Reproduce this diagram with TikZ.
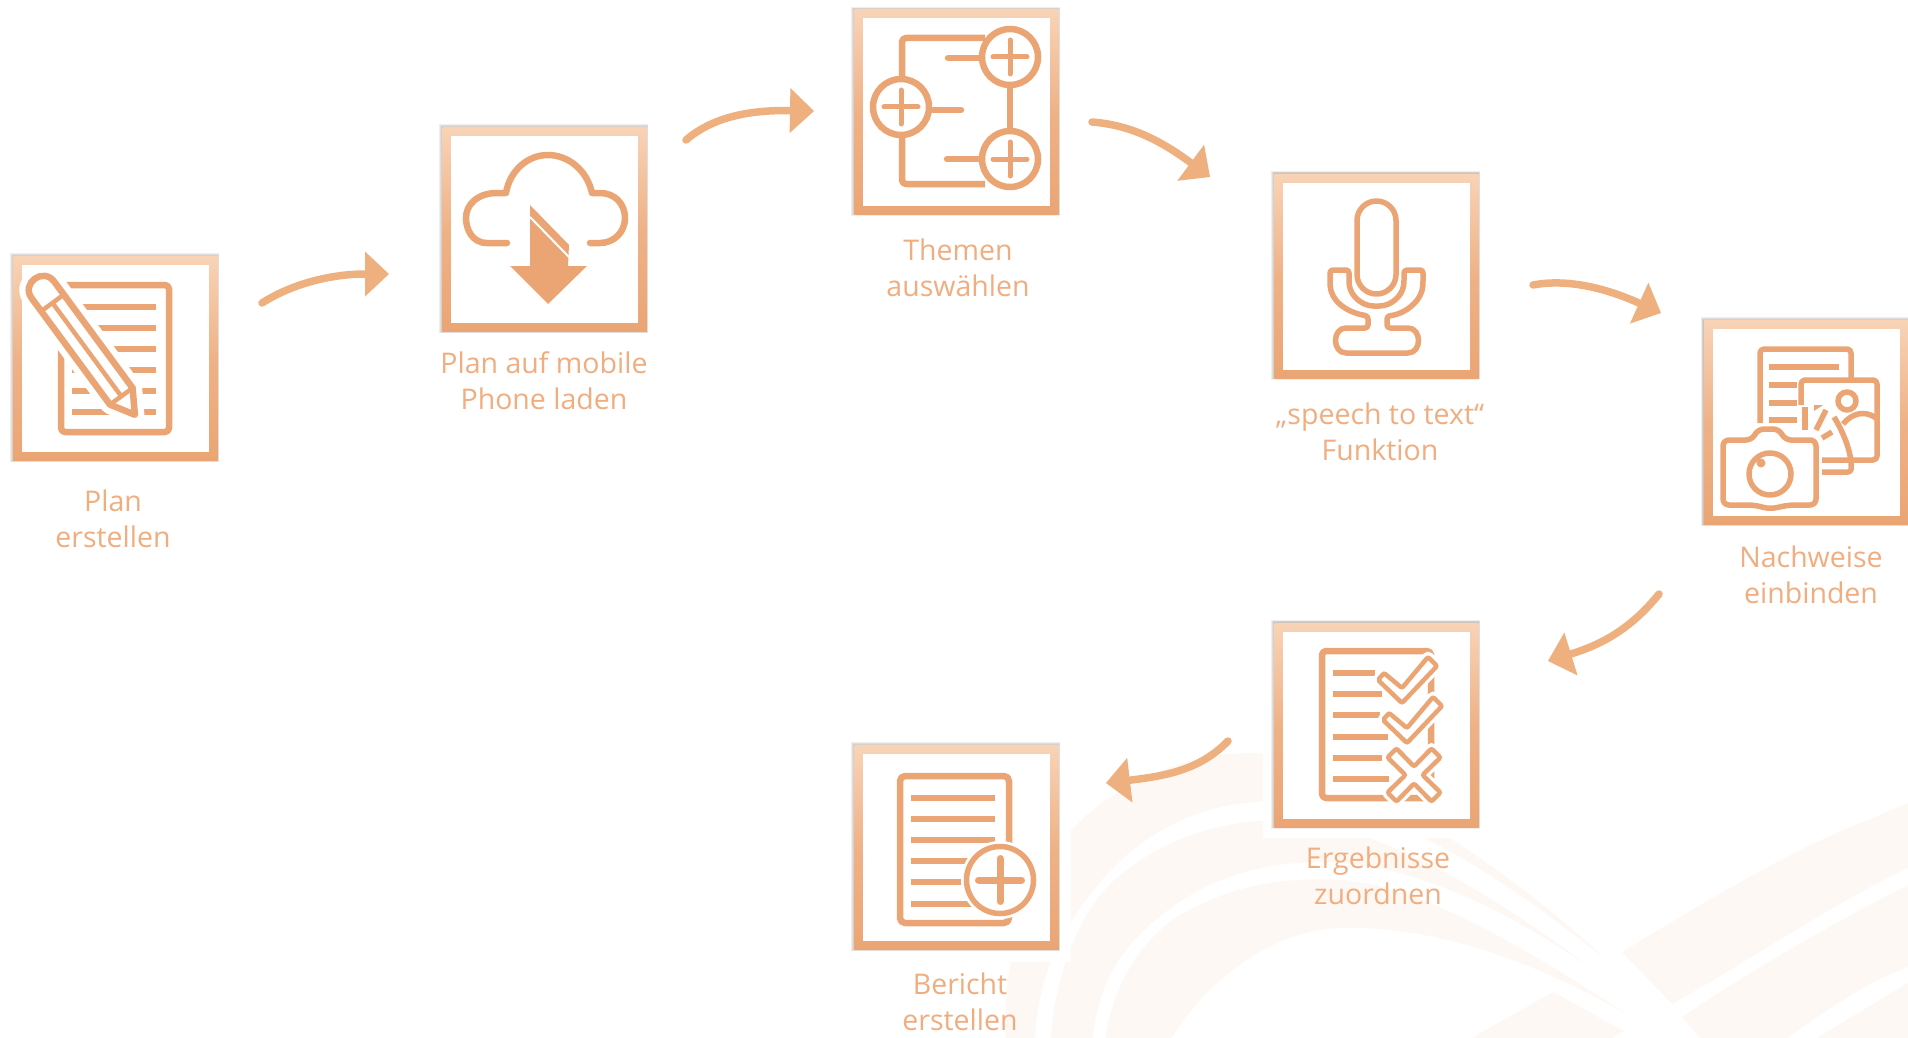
\documentclass[tikz,border=0pt]{standalone}
\usepackage{fontspec}
\setmainfont{Open Sans}
\usetikzlibrary{arrows.meta,shadings}
\definecolor{iconc}{HTML}{EBA574}
\definecolor{framelo}{HTML}{EBA574}
\definecolor{framehi}{HTML}{F8D3B6}
\definecolor{arrowc}{HTML}{EFB07F}
\definecolor{textc}{HTML}{F0AE80}
\definecolor{wmark}{HTML}{FDF8F3}
\tikzset{
  framebox/.style={rectangle,minimum size=204pt,inner sep=0pt,outer sep=0pt,top color=framehi,bottom color=framelo,draw=none,middle color=framelo!72!framehi},
  boxshadow/.style={fill=black!60!iconc,opacity=.09},
  flow/.style={draw=arrowc,line width=7.5pt,line cap=round,-{Triangle[length=24pt,width=45pt,fill=arrowc,line width=0pt]}},
  ico/.style={draw=iconc,line width=6.5pt,line join=round},
  icothin/.style={draw=iconc,line width=5.5pt,line join=round},
  icorow/.style={fill=iconc},
  halo/.style={draw=white,line width=19pt,line join=round},
  caption/.style={text=textc,font=\fontsize{28.5}{36}\selectfont,align=center,inner sep=0pt},
  wm/.style={fill=wmark},
  plus/.style={draw=iconc,line width=5pt,line cap=round}
}
\newcommand{\iconbox}[3]{%
  \foreach \g in {0.8,1.6,2.4,3.2} {\fill[boxshadow] (#2-102-\g,#3-102-\g) rectangle (#2+102+\g*.6,#3+102+\g*.6);}
  \node[framebox] (#1) at (#2,#3) {};
  \fill[white] (#2-93.5,#3-93.5) rectangle (#2+93.5,#3+93.5);
}
\newcommand{\rowlines}[3]{% x1, x2 , list of y
  \foreach \yy in {#3} {\fill[icorow] (#1,\yy-3.4) rectangle (#2,\yy+3.4);}
}
\begin{document}
\begin{tikzpicture}[x=1pt,y=-1pt]
\useasboundingbox (0,0) rectangle (1908,1038);
\fill[white] (0,0) rectangle (1908,1038);
\begin{scope}
\clip (0,0) rectangle (1908,1038);
% watermark
\fill[wm] (1008,1060) .. controls (995,970) and (1030,870) .. (1071,830) .. controls (1115,785) and (1180,754) .. (1250,753) .. controls (1330,752) and (1500,860) .. (1603,957)
  .. controls (1530,900) and (1400,800) .. (1290,802) .. controls (1200,796) and (1125,835) .. (1071,922) .. controls (1045,960) and (1034,1010) .. (1034,1060) -- cycle;
\fill[wm] (1050,1060) .. controls (1052,960) and (1090,895) .. (1127,870) .. controls (1165,840) and (1220,820) .. (1280,820) .. controls (1380,822) and (1500,900) .. (1588,966)
  .. controls (1520,920) and (1420,862) .. (1320,862) .. controls (1230,862) and (1170,900) .. (1130,945) .. controls (1105,975) and (1092,1010) .. (1092,1060) -- cycle;
\fill[wm] (1103,1060) .. controls (1108,980) and (1150,925) .. (1200,905) .. controls (1250,880) and (1300,878) .. (1340,880) .. controls (1420,885) and (1520,945) .. (1625,1013)
  .. controls (1540,965) and (1440,925) .. (1340,928) .. controls (1270,930) and (1195,985) .. (1160,1060) -- cycle;
\fill[wm] (1472,1038) -- (1553,992) -- (1624,1031) -- (1612,1038) -- cycle;
\fill[wm] (1622,952) .. controls (1700,905) and (1790,850) .. (1868,820) -- (1908,803) -- (1908,868) .. controls (1830,905) and (1750,960) .. (1672,1004) -- cycle;
\fill[wm] (1682,1017) .. controls (1760,965) and (1830,925) .. (1908,885) -- (1908,967) .. controls (1860,985) and (1820,1015) .. (1787,1038) -- (1700,1038) -- cycle;
\fill[wm] (1817,1038) -- (1908,983) -- (1908,1038) -- cycle;
% white areas left round two of the boxes
\fill[white] (840,730) rectangle (1071,962);
\fill[white] (1263,600) rectangle (1490,838);
% boxes
\iconbox{b1}{115.5}{358.5}
\iconbox{b2}{544.5}{229.5}
\iconbox{b3}{956.5}{112}
\iconbox{b4}{1376.5}{276}
\iconbox{b5}{1806}{422.5}
\iconbox{b6}{1376.5}{725}
\iconbox{b7}{956.5}{847.5}
\end{scope}

% icon 1: note and pencil
\draw[ico,rounded corners=4pt] (61,285) rectangle (169,432);
\rowlines{72}{156}{307,328,349,370,391,412}
\draw[halo,fill=white] (54.3,281.7) .. controls (43.2,266.7) and (20.6,283.3) .. (31.7,298.3) -- (110,404.6) -- (134.9,414.8) -- (132.6,388) -- cycle;
\draw[ico,fill=white] (54.3,281.7) .. controls (43.2,266.7) and (20.6,283.3) .. (31.7,298.3) -- (110,404.6) -- (134.9,414.8) -- (132.6,388) -- cycle;
\draw[iconc,line width=4.5pt] (52.5,302.9) -- (121.3,396.3);
\draw[iconc,line width=4.5pt] (63.8,294.6) -- (41.2,311.2);
\draw[iconc,line width=4.5pt] (132.6,388) -- (110,404.6);

% icon 2: cloud with arrow
\draw[ico,line cap=round] (507,243) -- (487,243) .. controls (472,243) and (466,229) .. (466,218) .. controls (466,204) and (478,193) .. (497,193) -- (506,193) .. controls (510,170) and (528,155) .. (548,155) .. controls (568,155) and (587,170) .. (592,193) -- (600,193) .. controls (615,193) and (625,204) .. (625,218) .. controls (625,232) and (614,243) .. (600,243) -- (590,243);
\fill[iconc] (530,205) -- (569,245) -- (568,266) -- (587,266) -- (548,304) -- (510,266) -- (530,266) -- cycle;
\draw[white,line width=2pt] (530,217) -- (569,257);

% icon 3: tree of plus circles
\draw[ico,rounded corners=4pt] (985,38) -- (902,38) -- (902,77);
\draw[ico,rounded corners=4pt] (902,137) -- (902,184) -- (985,184);
\draw[ico,line cap=round] (948,58) -- (982,58);
\draw[ico,line cap=round] (933,110) -- (961,110);
\draw[ico,line cap=round] (947,159) -- (982,159);
\draw[ico] (1010,85) -- (1010,131);
\draw[ico] (1010,57) circle[radius=28pt];
\draw[ico] (901,107) circle[radius=28pt];
\draw[ico] (1010,159) circle[radius=28pt];
\draw[plus] (993,57) -- (1027,57);\draw[plus] (1010,40) -- (1010,74);
\draw[plus] (884,107) -- (918,107);\draw[plus] (901,90) -- (901,124);
\draw[plus] (993,159) -- (1027,159);\draw[plus] (1010,142) -- (1010,176);

% icon 4: microphone
\draw[icothin,rounded corners=19.5pt] (1357,201) rectangle (1396,294);
\draw[icothin,rounded corners=3pt] (1330,270) -- (1349,270) -- (1349,283) .. controls (1351,296) and (1362,306) .. (1376.5,306) .. controls (1391,306) and (1402,296) .. (1404,283) -- (1404,270) -- (1423,270) -- (1423,283) .. controls (1422,300) and (1406,314) .. (1387,316) -- (1387,328) -- (1405,328) .. controls (1422,328) and (1422,353) .. (1405,353) -- (1349,353) .. controls (1332,353) and (1332,328) .. (1349,328) -- (1368,328) -- (1368,316) .. controls (1345,312) and (1331,300) .. (1330,283) -- cycle;

% icon 5: document, picture and camera
\draw[icothin,rounded corners=4pt] (1760,423) -- (1760,349) -- (1851,349) -- (1851,378);
\rowlines{1769}{1839}{367}
\rowlines{1769}{1797}{385,403,420}
\draw[icothin,rounded corners=4pt] (1801,405) -- (1801,380) -- (1877,380) -- (1877,460) -- (1822,460);
\draw[icothin,rounded corners=3pt] (1834,417) .. controls (1845,435) and (1852,455) .. (1851,472) -- (1822,472);
\draw[icothin] (1847,401) circle[radius=9pt];
\draw[icothin] (1843,424) .. controls (1852,413) and (1865,410) .. (1876,418);
\draw[icothin] (1805,407) -- (1805,430);
\draw[icothin] (1826,410) -- (1816,430);
\draw[icothin] (1832,432) -- (1822,438);
\fill[iconc] (1814,405) -- (1823,405) -- (1814,411) -- cycle;
\draw[icothin,rounded corners=6pt] (1752,440) -- (1758,429) -- (1779,429) -- (1785,440) -- (1816,440) -- (1816,505) -- (1789,505) -- (1770,509) -- (1754,505) -- (1723,505) -- (1723,440) -- cycle;
\draw[icothin] (1770,474) circle[radius=21pt];
\fill[iconc] (1761,463) circle[radius=4.5pt];

% icon 6: checklist
\draw[ico,rounded corners=4pt] (1431,651) -- (1322,651) -- (1322,798) -- (1431,798) -- cycle;
\rowlines{1333}{1375}{673}
\rowlines{1333}{1382}{694}
\rowlines{1333}{1380}{715}
\rowlines{1333}{1388}{737}
\rowlines{1333}{1382}{758}
\rowlines{1333}{1389}{779}
\foreach \dx/\dy in {0/0,5/40} {
  \begin{scope}[shift={(\dx,\dy)}]
  \draw[draw=white,line width=11pt,line join=round,fill=white] (1384,673) -- (1402,688) -- (1428,657) -- (1437,666) -- (1402,703) -- (1378,680) -- cycle;
  \draw[draw=iconc,line width=4.5pt,fill=white,rounded corners=2pt] (1384,673) -- (1402,688) -- (1428,657) -- (1437,666) -- (1402,703) -- (1378,680) -- cycle;
  \end{scope}
}
\draw[draw=white,line width=11pt,line join=round,fill=white] (1387.5,757.5) -- (1396.5,748.5) -- (1414,766.5) -- (1431.5,748.5) -- (1440.5,757.5) -- (1422.5,775) -- (1440.5,792.5) -- (1431.5,801.5) -- (1414,783.5) -- (1396.5,801.5) -- (1387.5,792.5) -- (1405.5,775) -- cycle;
\draw[draw=iconc,line width=4.5pt,fill=white,rounded corners=2pt] (1387.5,757.5) -- (1396.5,748.5) -- (1414,766.5) -- (1431.5,748.5) -- (1440.5,757.5) -- (1422.5,775) -- (1440.5,792.5) -- (1431.5,801.5) -- (1414,783.5) -- (1396.5,801.5) -- (1387.5,792.5) -- (1405.5,775) -- cycle;

% icon 7: report with plus
\draw[ico,rounded corners=5pt] (900,776) rectangle (1009,923);
\rowlines{911}{995}{798,819,840,861,882,904}
\fill[white] (1000,880) circle[radius=39pt];
\draw[icothin,fill=white] (1000,880) circle[radius=33.5pt];
\draw[iconc,line width=7pt,line cap=round] (978.5,880) -- (1021.5,880);
\draw[iconc,line width=7pt,line cap=round] (1000,858.5) -- (1000,901.5);

% connectors
\coordinate (a1s) at ([shift={(146.5,-55.5)}]b1.center);
\coordinate (a1e) at ([shift={(-155.5,44.5)}]b2.center);
\coordinate (a2s) at ([shift={(141.5,-89.5)}]b2.center);
\coordinate (a2e) at ([shift={(-142.5,-1)}]b3.center);
\coordinate (a3s) at ([shift={(135.5,10)}]b3.center);
\coordinate (a3e) at ([shift={(-166.5,-99)}]b4.center);
\coordinate (a4s) at ([shift={(156.5,9)}]b4.center);
\coordinate (a4e) at ([shift={(-145,-109.5)}]b5.center);
\coordinate (a5s) at ([shift={(-147,171.5)}]b5.center);
\coordinate (a5e) at ([shift={(171.5,-64)}]b6.center);
\coordinate (a6s) at ([shift={(-148.5,16)}]b6.center);
\coordinate (a6e) at ([shift={(149.5,-64.5)}]b7.center);
\draw[flow] (a1s) .. controls (295,282) and (335,274) .. (a1e);
\draw[flow] (a2s) .. controls (715,115) and (755,110) .. (a2e);
\draw[flow] (a3s) .. controls (1130,125) and (1160,140) .. (a3e);
\draw[flow] (a4s) .. controls (1570,278) and (1610,290) .. (a4e);
\draw[flow] (a5s) .. controls (1630,630) and (1600,645) .. (a5e);
\draw[flow] (a6s) .. controls (1200,770) and (1165,776) .. (a6e);

% captions
\node[caption] (t1) at (113,519) {Plan\\erstellen};
\node[caption] (t2) at (544,381) {Plan auf mobile\\Phone laden};
\node[caption] (t3) at (958,268) {Themen\\auswählen};
\node[caption] (t4) at (1380,432) {„speech to text“\\Funktion};
\node[caption] (t5) at (1811,575) {Nachweise\\einbinden};
\node[caption] (t6) at (1378,876) {Ergebnisse\\zuordnen};
\node[caption] (t7) at (960,1002) {Bericht\\erstellen};
\end{tikzpicture}
\end{document}
